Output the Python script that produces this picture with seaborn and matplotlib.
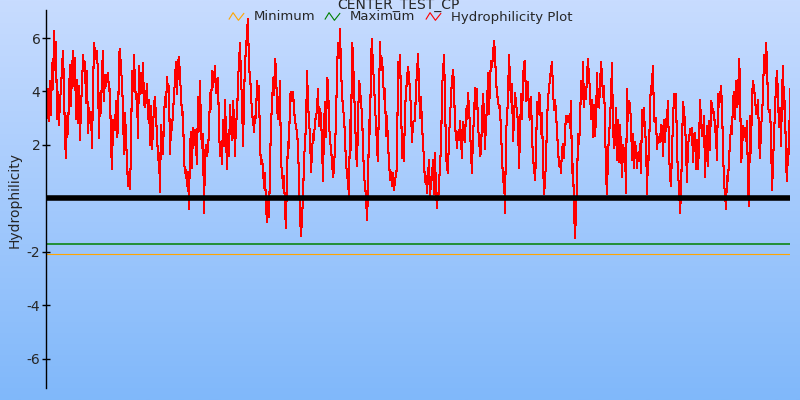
import numpy as np
import seaborn as sns
import matplotlib.pyplot as plt
from matplotlib.path import Path
from matplotlib.lines import Line2D

# Hydrophilicity profile (one value per residue window)
seg1 = [4.37, 3.0, 4.1, 2.9, 4.4, 3.1, 5.05, 4.1, 6.25, 4.8, 5.85, 2.95, 4.0, 2.75, 3.7, 4.05, 4.95, 5.5, 4.2, 2.15,
        1.5, 3.1, 2.4, 3.95, 5.0, 3.45, 4.8, 5.5, 4.2, 5.25, 2.95, 4.45, 2.8, 4.2, 2.2, 3.45, 4.2, 5.35, 4.95, 5.1,
        3.55, 4.75, 2.45, 3.4, 2.8, 3.25, 1.9, 4.0, 5.8, 5.45, 5.2, 5.5, 4.6, 2.25, 3.95, 3.2, 4.8, 5.5, 3.65, 4.6,
        4.2, 4.55, 4.7, 4.0, 4.1, 2.0, 1.1, 2.95, 2.8, 2.55, 3.65, 2.3, 2.55, 5.35, 5.6, 4.75, 4.45, 3.2, 1.65, 3.2,
        2.25, 1.2, 0.45, 1.0, 0.35, 1.85, 4.75, 4.0, 5.35, 4.25, 3.7, 3.9, 2.25, 4.95, 3.9, 4.7, 3.95, 5.05, 3.55, 3.4,
        3.75, 4.3, 2.95, 3.7, 2.0, 3.45, 1.85, 2.55, 3.5, 3.8, 2.95, 2.45, 1.45, 1.7, 0.25, 2.75, 2.2, 1.65, 3.05, 3.8,
        3.4, 4.55, 4.0, 4.2, 1.65, 2.7, 2.55, 3.3, 3.75, 4.55, 5.1, 3.9, 5.05, 5.3, 4.55, 3.9, 3.1, 3.25, 1.45, 0.95,
        1.05, 0.45, 1.0, -0.4, 1.95, 2.5, 1.15, 2.65, 2.0, 2.55]
seg2 = [1.95, 1.3, 3.8, 2.5, 4.4, 2.55, 1.9, 2.4, -0.55, 1.6, 2.0, 1.6, 1.85, 2.5, 3.95, 3.35, 4.75, 4.15, 4.5, 4.95,
        3.95, 4.45, 4.5, 2.6, 1.6, 1.95, 1.3, 2.95, 1.95, 3.7, 2.4, 1.1, 2.4, 1.6, 3.5, 2.6, 2.2, 3.65, 2.95, 1.6,
        2.95, 3.0, 4.4, 5.1, 5.8, 4.45, 3.7, 1.95, 3.65, 5.15, 5.5, 6.3, 6.7, 4.85, 4.6, 3.95, 3.15, 2.95, 2.5, 3.1,
        3.0, 4.4, 3.7, 4.2, 1.95, 1.3, 1.45, 1.15, 0.4, 0.95, -0.3, -0.9, 0.0, -0.7, 1.2, 2.9, 3.4, 4.5, 3.85, 5.2,
        4.85, 3.4, 2.95, 3.15, 4.4, 1.2, 1.1, 0.4, 0.85, -0.45, -1.1, 0.95, 2.1, 1.9, 3.8, 4.0, 3.65, 4.0, 3.35, 2.9,
        2.7, 2.45, 2.0, 0.6, -0.65, -1.4, -0.8, 0.1, 1.3, 2.2, 2.6, 4.75, 3.7, 2.8, 2.45, 1.0, 1.7, 2.4, 2.2, 2.95,
        3.0, 3.35, 4.1, 2.7, 3.35, 3.1, 2.0, 0.65, 2.7, 3.6, 2.3, 4.5, 4.4, 2.85, 2.15, 1.9, 1.35, 0.8, 1.1, 2.0,
        2.85, 4.75, 5.8, 5.25, 6.35, 4.85, 3.95, 3.35, 3.1, 2.2, 1.35, 0.9, 0.6, 0.1, 2.95, 1.8, 5.8, 5.45, 4.0, 3.2,
        1.7, 1.2, 2.85, 4.4, 4.2, 3.5, 3.25, 1.9, 0.9, 0.45, 0.1, -0.8, 0.2, 2.95, 2.4, 5.25, 5.95, 4.75, 4.5, 3.25,
        2.95, 1.8, 1.4, 3.8, 5.85, 4.8, 5.25, 4.6, 3.7, 4.1, 2.35, 3.1, 1.95, 1.45, 0.7, 1.0, 0.45, 0.95, 0.3, 0.7,
        0.85, 1.2]
seg3 = [5.1, 4.5, 5.35, 3.8, 1.5, 2.4, 1.4, 3.35, 3.95, 4.5, 4.9, 4.6, 3.95, 3.35, 2.1, 2.85, 2.9, 2.9, 4.2, 4.65,
        5.4, 4.3, 3.0, 3.8, 2.7, 2.1, 1.4, 0.6, 0.85, 0.2, 0.85, 1.45, 0.1, 0.55, 0.8, 1.45, 0.15, 1.7, 0.2, -0.35,
        0.2, 0.15, 1.6, 1.6, 4.1, 4.7, 5.35, 3.85, 1.6, 1.15, 0.95, 2.35, 2.95, 3.85, 4.4, 4.8, 4.3, 2.6, 2.45, 1.9,
        2.5, 2.2, 2.9, 2.2, 1.5, 2.85, 2.65, 2.1, 3.35, 2.95, 3.95, 3.35, 2.65, 1.65, 0.95, 2.45, 2.95, 4.15, 3.35, 4.1,
        2.65, 2.3, 1.6, 1.7, 3.0, 3.9, 3.15, 1.85, 2.9, 3.35, 4.7, 3.15, 4.4, 5.15, 4.9, 5.35, 5.9, 5.45, 4.4, 3.95,
        3.65, 3.4, 3.45, 2.4, 1.65, 0.6, 0.95, -0.55, 2.45, 3.0, 3.75, 5.35, 4.5, 3.6, 4.3, 2.15, 2.95, 3.95, 3.6, 3.2,
        2.9, 1.15, 2.35, 3.9, 2.95, 4.45, 5.1, 5.15, 3.65, 3.7, 4.35, 3.1, 2.95, 3.8, 2.35, 1.5, 1.15, 0.7, 1.6, 3.6,
        3.15, 3.95, 3.85, 2.4, 3.2, 1.35, 0.15, 0.6, 1.4, 2.85, 3.75, 4.1, 4.5, 4.8, 5.1, 4.1, 3.3, 3.7, 3.25, 2.45,
        1.9, 1.2, 1.35, 0.95, 1.85, 2.05, 1.5, 2.45, 3.1, 3.05, 2.85, 3.1, 2.65, 3.65, 0.95, 1.3, -0.35, -1.5, -0.5, 0.5,
        2.4, 2.05, 2.7, 4.4, 3.7, 5.1, 3.4, 4.15, 3.7, 4.65, 5.2, 4.5, 4.1, 2.95, 3.7, 2.3, 3.5, 2.35, 2.95, 4.7,
        3.45]
seg4 = [3.4, 4.2, 5.1, 4.6, 3.8, 4.2, 2.95, 0.9, 0.15, 1.65, 2.35, 2.9, 3.85, 5.05, 2.65, 1.9, 2.05, 3.4, 1.45, 2.95,
        1.35, 2.75, 1.85, 0.8, 2.0, 1.35, 1.9, 0.2, 4.1, 2.9, 3.65, 3.5, 2.85, 1.45, 2.4, 1.15, 2.1, 1.85, 1.15, 1.7,
        1.4, 2.05, 0.95, 3.3, 2.7, 3.4, 2.3, 2.3, 0.15, 1.6, 1.45, 3.65, 4.1, 4.35, 4.95, 2.9, 2.85, 3.0, 1.85, 2.3,
        2.2, 2.1, 2.75, 2.7, 1.6, 2.95, 2.1, 2.95, 3.0, 3.65, 1.7, 0.85, 0.45, 1.8, 2.85, 3.9, 3.85, 3.9, 1.85, 0.9,
        0.45, -0.55, 0.2, 1.95, 3.6, 3.25, 2.85, 1.9, 0.6, 2.1, 2.15, 2.6, 2.45, 2.65, 1.35, 2.4, 2.45, 1.1, 2.2, 1.1,
        1.9, 3.7, 2.9, 2.35, 2.4, 3.1, 0.8, 2.0, 2.7, 1.2, 2.9, 1.8, 3.65, 3.5, 3.2, 3.25, 2.6, 2.35, 1.45, 3.9,
        3.4, 3.8, 4.2, 3.5, 1.8, 0.6, 0.15, -0.4, 0.85, 0.65, 1.45, 2.1, 2.7, 2.4, 3.7, 4.0, 2.95, 4.4, 3.4, 3.65,
        5.2, 4.5, 1.35, 1.65, 2.7, 2.3, 2.65, 2.15, 2.9, 0.45, -0.3, 3.1, 1.7, 3.8, 4.4, 4.1, 3.8, 3.15, 3.3, 3.7,
        2.3, 1.5, 2.65, 3.1, 3.9, 5.35, 4.7, 5.8, 5.2, 3.4, 3.25, 3.3, 2.4, 0.3, 1.2, 2.4, 3.25, 4.3, 4.75, 3.85,
        2.65, 3.4, 1.95, 3.9, 4.95, 3.35, 3.65, 1.3, 0.65, 1.85, 1.65, 4.1]
hydro = np.array(seg1 + seg2 + seg3 + seg4)
position = np.arange(len(hydro))

MIN_VAL = -2.1
MAX_VAL = -1.7
Y_TICKS = [-6, -4, -2, 2, 4, 6]
TITLE = "CENTER_TEST_CP"

sns.set_style("white")
plt.rcParams['font.family'] = ['DejaVu Sans']

fig = plt.figure(figsize=(8, 4), dpi=100)

# gradient background
bg = fig.add_axes([0, 0, 1, 1], zorder=0)
grad = np.linspace(0, 1, 256).reshape(-1, 1)
top = np.array([200, 220, 255]) / 255
bottom = np.array([128, 184, 250]) / 255
img = top + (bottom - top) * grad[:, :, None]
bg.imshow(img, aspect='auto', extent=[0, 1, 0, 1])
bg.set_axis_off()

ax = fig.add_axes([46 / 800, 12 / 400, 744 / 800, 378 / 400], zorder=1)
ax.set_facecolor('none')

sns.lineplot(x=position, y=hydro, color='red', linewidth=0.75, ax=ax, antialiased=False)
ax.axhline(0, color='black', linewidth=4)
ax.axhline(MAX_VAL, color='green', linewidth=1.1)
ax.axhline(MIN_VAL, color='orange', linewidth=0.8)

ax.set_xlim(0, len(hydro) - 1)
ax.set_ylim(-7.1, 7.05)
ax.set_yticks(Y_TICKS)
ax.set_yticklabels([str(t) for t in Y_TICKS], fontsize=10)
ax.set_xticks([])
ax.tick_params(axis='y', direction='inout', length=6, width=1, color='black', pad=1, left=True)
for side in ['top', 'right', 'bottom']:
    ax.spines[side].set_visible(False)
ax.spines['left'].set_color('black')
ax.spines['left'].set_linewidth(1)
ax.set_xlabel('')
ax.set_ylabel('')

fig.text(15 / 800, 0.5, 'Hydrophilicity', rotation=90, ha='center', va='center', fontsize=10)
fig.text(0.4975, 1 - 5 / 400, TITLE, ha='center', va='center', fontsize=10)

# zigzag legend icons
zig = Path([(-1, -0.4), (-0.45, 0.5), (0.25, -0.5), (1, 0.45)],
           [Path.MOVETO, Path.LINETO, Path.LINETO, Path.LINETO])
handles = [Line2D([], [], linestyle='None', marker=zig, markersize=11, markerfacecolor='none',
                  markeredgecolor=c, markeredgewidth=0.8, label=l)
           for c, l in [('orange', 'Minimum'), ('green', 'Maximum'), ('red', 'Hydrophilicity Plot')]]
fig.legend(handles=handles, loc='center', bbox_to_anchor=(0.5, 1 - 17 / 400), ncol=3, frameon=False,
           fontsize=9.5, handlelength=1.2, handletextpad=0.75, columnspacing=0.7, borderpad=0)

fig.savefig('out.png', dpi=100)
